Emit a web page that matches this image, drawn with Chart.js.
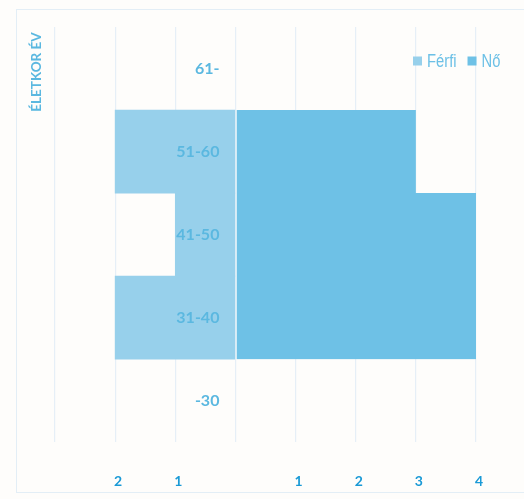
<!DOCTYPE html>
<html>
<head>
<meta charset="utf-8">
<script src="https://cdn.jsdelivr.net/npm/chart.js@4.4.1/dist/chart.umd.min.js"></script>
<style>
  html, body { margin: 0; padding: 0; background: #fefdfb; }
  #wrap { width: 524px; height: 499px; position: relative; }
</style>
</head>
<body>
<div id="wrap"><canvas id="pyramid"></canvas></div>
<script>
// age groups, top to bottom
const ageGroups = ['61-', '51-60', '41-50', '31-40', '-30'];
const maleCounts = [0, 2, 1, 2, 0];     // Férfi (drawn to the left)
const femaleCounts = [0, 3, 4, 4, 0];   // Nő
const xTicksMin = -3;
const xTicksMax = 4;
const seriesNames = ['Férfi', 'Nő'];
const axisTitle = 'ÉLETKOR ÉV';

const maleColor = '#97d0eb';
const femaleColor = '#6ec1e6';

// empty groups get no bar at all (a zero-width bar leaves a hairline)
const skipZero = v => (v === 0 ? null : v);

// background, frame, category labels, vertical title and the floating legend
const decorations = {
    id: 'decorations',
    beforeDraw(chart) {
        const ctx = chart.ctx;
        ctx.save();
        ctx.fillStyle = '#fefdfb';
        ctx.fillRect(0, 0, chart.width, chart.height);
        ctx.strokeStyle = '#e3eef6';
        ctx.lineWidth = 1;
        ctx.strokeRect(16.5, 9.5, chart.width, 483);
        ctx.restore();
    },
    afterDraw(chart) {
        const ctx = chart.ctx;
        const xs = chart.scales.x;
        const ys = chart.scales.y;

        // age group labels sit just left of the zero line
        ctx.save();
        ctx.font = 'bold 16px Lato';
        ctx.fillStyle = '#5bb8e0';
        ctx.textAlign = 'right';
        ctx.textBaseline = 'middle';
        const labelX = xs.getPixelForValue(0) - 16;
        chart.data.labels.forEach((lab, i) => {
            ctx.fillText(lab, labelX, ys.getPixelForValue(i));
        });
        ctx.restore();

        // vertical axis title
        ctx.save();
        ctx.translate(37, 72);
        ctx.rotate(-Math.PI / 2);
        ctx.font = 'bold 13.5px Lato';
        ctx.fillStyle = '#5bb8e0';
        ctx.textAlign = 'center';
        ctx.textBaseline = 'middle';
        ctx.fillText(axisTitle, 0, 0);
        ctx.restore();

        // legend (narrow type, as in the original)
        ctx.save();
        ctx.font = '18px "Liberation Sans"';
        ctx.textBaseline = 'middle';
        let x = 413;
        const y = 61;
        chart.data.datasets.forEach(ds => {
            ctx.fillStyle = ds.backgroundColor;
            ctx.fillRect(x, y - 4.5, 9, 9);
            ctx.fillStyle = '#6cc0e6';
            const w = ctx.measureText(ds.label).width * 0.82;
            ctx.save();
            ctx.translate(x + 14, y + 1);
            ctx.scale(0.82, 1);
            ctx.fillText(ds.label, 0, 0);
            ctx.restore();
            x += 14 + w + 11;
        });
        ctx.restore();
    }
};

new Chart(document.getElementById('pyramid'), {
    type: 'bar',
    data: {
        labels: ageGroups,
        datasets: [
            {
                label: seriesNames[0],
                data: maleCounts.map(v => skipZero(-v)),
                backgroundColor: maleColor,
                borderWidth: 0,
                barPercentage: 1,
                categoryPercentage: 1
            },
            {
                label: seriesNames[1],
                data: femaleCounts.map(skipZero),
                backgroundColor: femaleColor,
                borderColor: '#ffffff',
                borderWidth: { left: 1, right: 0, top: 0, bottom: 0 },
                borderSkipped: false,
                barPercentage: 1,
                categoryPercentage: 1
            }
        ]
    },
    options: {
        indexAxis: 'y',
        responsive: true,
        maintainAspectRatio: false,
        animation: false,
        layout: {
            padding: { left: 55, right: 48, top: 27, bottom: 5 }
        },
        plugins: {
            legend: { display: false },
            tooltip: { enabled: false }
        },
        scales: {
            x: {
                stacked: true,
                min: xTicksMin,
                max: xTicksMax,
                border: { display: false },
                grid: {
                    color: '#e6eff7',
                    lineWidth: 1.2,
                    drawTicks: true,
                    tickLength: 27,
                    tickColor: 'transparent'
                },
                ticks: {
                    stepSize: 1,
                    padding: 4,
                    labelOffset: 3,
                    color: '#1a9ad6',
                    font: { family: 'Lato', size: 14, weight: 'bold' },
                    callback: function(value) {
                        if (value === 0 || value === xTicksMin) return '';
                        return Math.abs(value);
                    }
                }
            },
            y: {
                stacked: true,
                display: false,
                border: { display: false },
                grid: { display: false }
            }
        }
    },
    plugins: [decorations]
});
</script>
</body>
</html>
